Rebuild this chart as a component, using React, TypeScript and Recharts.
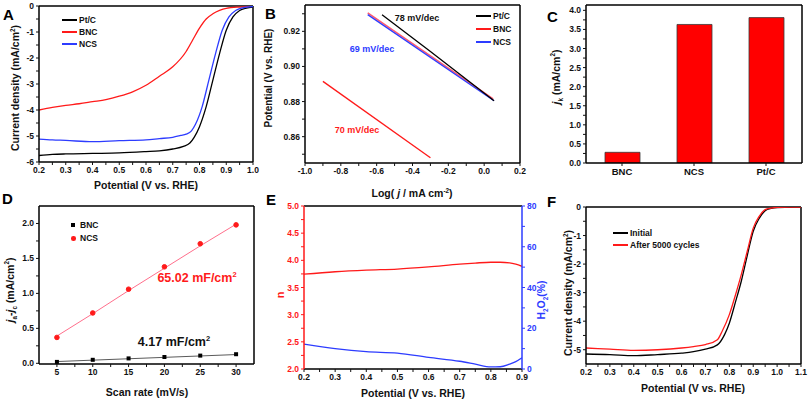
import React from "react"
import { Bar, BarChart, ComposedChart, Line, LineChart, ReferenceLine, XAxis, YAxis } from "recharts"

const FONT = "'Liberation Sans', Arial, Helvetica, sans-serif"
const RED = "#ff1a1a"
const BLUE = "#2d3cff"
const INK = "#111111"

// A: LSV curves, potential (V vs RHE) / current density (mA/cm2)
const aPtcV = [0.2, 0.25, 0.3, 0.4, 0.5, 0.6, 0.65, 0.7, 0.74, 0.764, 0.78, 0.8, 0.825, 0.85, 0.875, 0.9, 0.925, 0.95, 0.975, 1.0]
const aPtcJ = [-5.75, -5.71, -5.69, -5.67, -5.65, -5.6, -5.57, -5.5, -5.4, -5.27, -5.05, -4.64, -3.87, -2.85, -1.83, -0.93, -0.42, -0.17, -0.08, -0.04]
const aNcsV = [0.2, 0.25, 0.3, 0.4, 0.5, 0.6, 0.65, 0.7, 0.73, 0.75, 0.77, 0.785, 0.81, 0.835, 0.86, 0.885, 0.91, 0.935, 0.96, 1.0]
const aNcsJ = [-5.12, -5.15, -5.17, -5.22, -5.18, -5.15, -5.1, -5.05, -4.98, -4.93, -4.8, -4.55, -3.87, -2.85, -1.83, -0.93, -0.42, -0.17, -0.07, -0.02]
const aBncV = [0.2, 0.25, 0.3, 0.35, 0.4, 0.45, 0.5, 0.55, 0.6, 0.65, 0.7, 0.75, 0.775, 0.8, 0.825, 0.85, 0.875, 0.9, 0.95, 1.0]
const aBncJ = [-4.0, -3.9, -3.82, -3.76, -3.68, -3.6, -3.47, -3.3, -3.05, -2.7, -2.34, -1.75, -1.3, -0.85, -0.5, -0.3, -0.17, -0.09, -0.04, -0.02]

// B: Tafel plots, log(j) / potential
const bPtcLog = [-0.57, -0.3, 0.055]
const bPtcE = [0.9295, 0.9085, 0.8805]
const bBncUpLog = [-0.65, 0.05]
const bBncUpE = [0.9305, 0.8815]
const bNcsLog = [-0.65, 0.055]
const bNcsE = [0.9295, 0.8805]
const bBncLog = [-0.9, -0.3]
const bBncE = [0.8915, 0.848]

// C: kinetic current density
const cCats = ["BNC", "NCS", "Pt/C"]
const cJk = [0.28, 3.63, 3.81]

// D: double layer capacitance
const dRate = [5, 10, 15, 20, 25, 30]
const dBnc = [0.02, 0.05, 0.07, 0.09, 0.11, 0.13]
const dNcs = [0.37, 0.72, 1.06, 1.38, 1.71, 1.98]
const dBncFit = [0.025, 0.045, 0.065, 0.085, 0.105, 0.125]
const dNcsFit = [0.39, 0.71, 1.04, 1.36, 1.68, 1.99]

// E: electron transfer number and H2O2 yield
const ePot = [0.2, 0.3, 0.4, 0.5, 0.6, 0.7, 0.75, 0.8, 0.83, 0.86, 0.88, 0.9]
const eN = [3.745, 3.79, 3.82, 3.84, 3.88, 3.93, 3.95, 3.965, 3.965, 3.955, 3.93, 3.89]
const eH2o2 = [12.2, 10, 8.5, 7.8, 5.7, 3.8, 2.4, 1.0, 1.1, 2.4, 3.6, 5.5]

// F: stability
const fInitV = [0.2, 0.3, 0.4, 0.5, 0.6, 0.65, 0.7, 0.75, 0.78, 0.8, 0.825, 0.85, 0.875, 0.9, 0.925, 0.95, 0.975, 1.0, 1.05, 1.1]
const fInitJ = [-5.15, -5.17, -5.21, -5.17, -5.12, -5.07, -4.98, -4.83, -4.47, -4.07, -3.35, -2.6, -1.7, -0.85, -0.4, -0.13, -0.05, -0.02, -0.01, 0]
const fAfterV = [0.2, 0.3, 0.4, 0.5, 0.6, 0.65, 0.7, 0.75, 0.77, 0.8, 0.825, 0.85, 0.875, 0.9, 0.925, 0.95, 0.975, 1.0, 1.05, 1.1]
const fAfterJ = [-4.94, -4.98, -5.02, -5.0, -4.94, -4.89, -4.82, -4.65, -4.35, -3.77, -3.1, -2.37, -1.55, -0.74, -0.33, -0.09, -0.04, -0.01, 0, 0]

// tick labels (major) and minor tick positions
const aXMaj = [0.2, 0.3, 0.4, 0.5, 0.6, 0.7, 0.8, 0.9, 1.0]
const aXMin = [0.25, 0.35, 0.45, 0.55, 0.65, 0.75, 0.85, 0.95]
const aYMaj = [-6, -5, -4, -3, -2, -1, 0]
const aYMin = [-5.5, -4.5, -3.5, -2.5, -1.5, -0.5]
const bXMaj = [-1.0, -0.8, -0.6, -0.4, -0.2, 0.0, 0.2]
const bXMin = [-0.9, -0.7, -0.5, -0.3, -0.1, 0.1]
const bYMaj = [0.86, 0.88, 0.9, 0.92]
const bYMin = [0.85, 0.87, 0.89, 0.91, 0.93]
const cYMaj = [0, 0.5, 1, 1.5, 2, 2.5, 3, 3.5, 4]
const cYMin = [0.25, 0.75, 1.25, 1.75, 2.25, 2.75, 3.25, 3.75]
const dXMaj = [5, 10, 15, 20, 25, 30]
const dXMin = [7.5, 12.5, 17.5, 22.5, 27.5]
const dYMaj = [0, 0.5, 1, 1.5, 2]
const dYMin = [0.25, 0.75, 1.25, 1.75]
const eXMaj = [0.2, 0.3, 0.4, 0.5, 0.6, 0.7, 0.8, 0.9]
const eXMin = [0.25, 0.35, 0.45, 0.55, 0.65, 0.75, 0.85]
const eNMaj = [2, 2.5, 3, 3.5, 4, 4.5, 5]
const eNMin = [2.25, 2.75, 3.25, 3.75, 4.25, 4.75]
const eHMaj = [0, 20, 40, 60, 80]
const eHMin = [10, 30, 50, 70]
const fXMaj = [0.2, 0.3, 0.4, 0.5, 0.6, 0.7, 0.8, 0.9, 1.0, 1.1]
const fXMin = [0.25, 0.35, 0.45, 0.55, 0.65, 0.75, 0.85, 0.95, 1.05]
const fYMaj = [-5, -4, -3, -2, -1, 0]
const fYMin = [-4.5, -3.5, -2.5, -1.5, -0.5]

const pts = (xs: number[], ys: number[]) => xs.map((x, i) => ({ x, y: ys[i] }))
const all = (maj: number[], min: number[]) => [...maj, ...min].sort((a, b) => a - b)
const lab = (maj: number[], f: (v: number) => string) => (v: number) =>
  maj.some((m) => Math.abs(m - v) < 1e-9) ? f(v) : ""
const f1 = (v: number) => v.toFixed(1)
const f2 = (v: number) => v.toFixed(2)
const f0 = (v: number) => String(Math.round(v))

const tickStyle = { fontSize: 8.5, fontWeight: 700, fill: INK, fontFamily: FONT }
const PAD = 4
const RPAD = 12

// plot rectangles (left, top, right, bottom) in page pixels
const rA = { L: 39, T: 6, R: 253, B: 162 }
const rB = { L: 305, T: 5, R: 520, B: 163 }
const rC = { L: 586, T: 5, R: 802, B: 163 }
const rD = { L: 39, T: 206, R: 254, B: 364 }
const rE = { L: 304, T: 206, R: 522, B: 369 }
const rF = { L: 586, T: 207, R: 801, B: 364 }

// place a chart so its plot area lands on the rectangle
function box(r: any, yw: number, xh: number, rw = 0) {
  return {
    pos: { position: "absolute" as const, left: r.L - yw, top: r.T - PAD },
    width: r.R - r.L + yw + rw + RPAD,
    height: r.B - r.T + PAD + xh,
    margin: { top: PAD, right: RPAD, bottom: 0, left: 0 },
  }
}

function Txt({ x, y, size = 10.5, color = INK, rot = 0, left = false, children }: any) {
  return (
    <div
      style={{
        position: "absolute",
        left: x,
        top: y,
        transform: `translate(${left ? "0" : "-50%"}, -50%) rotate(${rot}deg)`,
        fontFamily: FONT,
        fontWeight: 700,
        fontSize: size,
        color,
        whiteSpace: "nowrap",
        lineHeight: 1,
      }}
    >
      {children}
    </div>
  )
}

const Letter = ({ x, y, c }: any) => (
  <div style={{ position: "absolute", left: x, top: y, fontFamily: FONT, fontWeight: 700, fontSize: 15, lineHeight: 1, color: "#000" }}>
    {c}
  </div>
)

const LegLine = ({ x, y, color, label }: any) => (
  <>
    <div style={{ position: "absolute", left: x, top: y - 1, width: 15, height: 2, background: color }} />
    <Txt x={x + 17} y={y} size={8.5} left>
      {label}
    </Txt>
  </>
)

const sup = { fontSize: "0.6em", verticalAlign: "super" }
const sub = { fontSize: "0.6em", verticalAlign: "sub" }
const edge = { stroke: "#000", strokeWidth: 1.5 }

export default function App() {
  const A = box(rA, 39, 20)
  const B = box(rB, 40, 20)
  const C = box(rC, 40, 20)
  const D = box(rD, 39, 20)
  const E = box(rE, 30, 18, 22)
  const F = box(rF, 40, 20)

  const axisLine = { stroke: "#000", strokeWidth: 1.5 }

  return (
    <div style={{ position: "absolute", left: 0, top: 0, width: 808, height: 401, background: "#fff", overflow: "hidden" }}>
      {/* ---------- A ---------- */}
      <div style={A.pos}>
        <LineChart width={A.width} height={A.height} margin={A.margin}>
          <XAxis type="number" dataKey="x" domain={[0.2, 1.0]} allowDataOverflow ticks={all(aXMaj, aXMin)} tickFormatter={lab(aXMaj, f1)} interval={0} tickSize={3} tick={tickStyle} axisLine={axisLine} tickLine={{ stroke: INK }} height={20} />
          <YAxis type="number" domain={[-6, 0]} allowDataOverflow ticks={all(aYMaj, aYMin)} tickFormatter={lab(aYMaj, f0)} interval={0} tickSize={3} tick={tickStyle} axisLine={axisLine} tickLine={{ stroke: INK }} width={39} />
          <ReferenceLine y={0} {...edge} />
          <ReferenceLine x={1.0} {...edge} />
          <Line data={pts(aBncV, aBncJ)} dataKey="y" type="monotone" stroke={RED} strokeWidth={1.3} dot={false} isAnimationActive={false} />
          <Line data={pts(aPtcV, aPtcJ)} dataKey="y" type="monotone" stroke="#000" strokeWidth={1.3} dot={false} isAnimationActive={false} />
          <Line data={pts(aNcsV, aNcsJ)} dataKey="y" type="monotone" stroke={BLUE} strokeWidth={1.3} dot={false} isAnimationActive={false} />
        </LineChart>
      </div>
      <Letter x={3} y={7} c="A" />
      <LegLine x={62} y={20} color="#000" label="Pt/C" />
      <LegLine x={62} y={32} color={RED} label="BNC" />
      <LegLine x={62} y={44} color={BLUE} label="NCS" />
      <Txt x={146} y={185}>Potential (V vs. RHE)</Txt>
      <Txt x={15} y={88} rot={-90}>
        Current density (mA/cm<span style={sup}>2</span>)
      </Txt>

      {/* ---------- B ---------- */}
      <div style={B.pos}>
        <LineChart width={B.width} height={B.height} margin={B.margin}>
          <XAxis type="number" dataKey="x" domain={[-1.0, 0.2]} allowDataOverflow ticks={all(bXMaj, bXMin)} tickFormatter={lab(bXMaj, f1)} interval={0} tickSize={3} tick={tickStyle} axisLine={axisLine} tickLine={{ stroke: INK }} height={20} />
          <YAxis type="number" domain={[0.845, 0.935]} allowDataOverflow ticks={all(bYMaj, bYMin)} tickFormatter={lab(bYMaj, f2)} interval={0} tickSize={3} tick={tickStyle} axisLine={axisLine} tickLine={{ stroke: INK }} width={40} />
          <ReferenceLine y={0.935} {...edge} />
          <ReferenceLine x={0.2} {...edge} />
          <Line data={pts(bBncUpLog, bBncUpE)} dataKey="y" stroke="#ff5a6e" strokeWidth={1.6} dot={false} isAnimationActive={false} />
          <Line data={pts(bNcsLog, bNcsE)} dataKey="y" stroke={BLUE} strokeWidth={1.3} dot={false} isAnimationActive={false} />
          <Line data={pts(bPtcLog, bPtcE)} dataKey="y" stroke="#000" strokeWidth={1.3} dot={false} isAnimationActive={false} />
          <Line data={pts(bBncLog, bBncE)} dataKey="y" stroke={RED} strokeWidth={1.3} dot={false} isAnimationActive={false} />
        </LineChart>
      </div>
      <Letter x={265} y={6} c="B" />
      <LegLine x={476} y={16} color="#000" label="Pt/C" />
      <LegLine x={476} y={29} color={RED} label="BNC" />
      <LegLine x={476} y={42} color={BLUE} label="NCS" />
      <Txt x={417} y={18} size={9}>78 mV/dec</Txt>
      <Txt x={372} y={49} size={9} color={BLUE}>69 mV/dec</Txt>
      <Txt x={357} y={130} size={9} color={RED}>70 mV/dec</Txt>
      <Txt x={412} y={193}>
        Log( <i>j</i> / mA cm<span style={sup}>-2</span>)
      </Txt>
      <Txt x={268.5} y={78} rot={-90} size={10}>Potential (V vs. RHE)</Txt>

      {/* ---------- C ---------- */}
      <div style={C.pos}>
        <BarChart width={C.width} height={C.height} margin={C.margin} data={cCats.map((c, i) => ({ k: i + 1, v: cJk[i] }))}>
          <XAxis type="number" dataKey="k" domain={[0.5, 3.5]} allowDataOverflow ticks={[1, 2, 3]} tickFormatter={(v: number) => cCats[v - 1] ?? ""} interval={0} tickSize={3} tick={{ ...tickStyle, fontSize: 9.5 }} axisLine={axisLine} tickLine={{ stroke: INK }} height={20} />
          <YAxis type="number" domain={[0, 4.14]} allowDataOverflow ticks={all(cYMaj, cYMin)} tickFormatter={lab(cYMaj, f1)} interval={0} tickSize={3} tick={tickStyle} axisLine={axisLine} tickLine={{ stroke: INK }} width={40} />
          <ReferenceLine y={4.14} {...edge} />
          <ReferenceLine x={3.5} {...edge} />
          <Bar dataKey="v" fill="#ff0000" stroke="#3a3a3a" strokeWidth={0.8} barSize={35} isAnimationActive={false} />
        </BarChart>
      </div>
      <Letter x={547} y={9} c="C" />
      <Txt x={557} y={77} rot={-90}>
        <i>j</i>
        <span style={sub}>k</span> (mA/cm<span style={sup}>2</span>)
      </Txt>

      {/* ---------- D ---------- */}
      <div style={D.pos}>
        <ComposedChart width={D.width} height={D.height} margin={D.margin} data={dRate.map((r, i) => ({ r, bnc: dBnc[i], ncs: dNcs[i], bf: dBncFit[i], nf: dNcsFit[i] }))}>
          <XAxis type="number" dataKey="r" domain={[2.5, 32.5]} allowDataOverflow ticks={all(dXMaj, dXMin)} tickFormatter={lab(dXMaj, f0)} interval={0} tickSize={3} tick={tickStyle} axisLine={axisLine} tickLine={{ stroke: INK }} height={20} />
          <YAxis type="number" domain={[-0.01, 2.25]} allowDataOverflow ticks={all(dYMaj, dYMin)} tickFormatter={lab(dYMaj, f1)} interval={0} tickSize={3} tick={tickStyle} axisLine={axisLine} tickLine={{ stroke: INK }} width={39} />
          <ReferenceLine y={2.25} {...edge} />
          <ReferenceLine x={32.5} {...edge} />
          <Line dataKey="nf" stroke="#ff6f8c" strokeWidth={1} dot={false} isAnimationActive={false} />
          <Line dataKey="bf" stroke="#5a5a5a" strokeWidth={1} dot={false} isAnimationActive={false} />
          <Line dataKey="ncs" stroke="none" dot={{ r: 2.3, fill: RED, stroke: RED }} isAnimationActive={false} />
          <Line
            dataKey="bnc"
            stroke="none"
            dot={(p: any) => <rect key={p.index} x={p.cx - 2} y={p.cy - 2} width={4} height={4} fill="#000" />}
            isAnimationActive={false}
          />
        </ComposedChart>
      </div>
      <Letter x={2} y={191} c="D" />
      <div style={{ position: "absolute", left: 71, top: 223, width: 4, height: 4, background: "#000" }} />
      <div style={{ position: "absolute", left: 71, top: 236, width: 4.5, height: 4.5, borderRadius: "50%", background: RED }} />
      <Txt x={80} y={225} size={8.5} left>BNC</Txt>
      <Txt x={80} y={238} size={8.5} left>NCS</Txt>
      <Txt x={197} y={278} size={12.5} color={RED}>
        65.02 mF/cm<span style={sup}>2</span>
      </Txt>
      <Txt x={174} y={342} size={12.5}>
        4.17 mF/cm<span style={sup}>2</span>
      </Txt>
      <Txt x={147} y={392}>Scan rate (mV/s)</Txt>
      <Txt x={11} y={290} rot={-90}>
        <i>j</i>
        <span style={sub}>a</span>-<i>j</i>
        <span style={sub}>c</span> (mA/cm<span style={sup}>2</span>)
      </Txt>

      {/* ---------- E ---------- */}
      <div style={E.pos}>
        <LineChart width={E.width} height={E.height} margin={E.margin} data={ePot.map((p, i) => ({ p, n: eN[i], h: eH2o2[i] }))}>
          <XAxis type="number" dataKey="p" domain={[0.2, 0.9]} allowDataOverflow ticks={all(eXMaj, eXMin)} tickFormatter={lab(eXMaj, f1)} interval={0} tickSize={3} tick={tickStyle} axisLine={axisLine} tickLine={{ stroke: INK }} height={18} />
          <YAxis yAxisId="n" type="number" domain={[2, 5]} allowDataOverflow ticks={all(eNMaj, eNMin)} tickFormatter={lab(eNMaj, f1)} interval={0} tickSize={3} tick={{ ...tickStyle, fill: RED }} axisLine={{ stroke: RED, strokeWidth: 1.5 }} tickLine={{ stroke: RED }} width={30} />
          <YAxis yAxisId="h" orientation="right" type="number" domain={[0, 80]} allowDataOverflow ticks={all(eHMaj, eHMin)} tickFormatter={lab(eHMaj, f0)} interval={0} tickSize={3} tick={{ ...tickStyle, fill: BLUE }} axisLine={{ stroke: BLUE, strokeWidth: 1.5 }} tickLine={{ stroke: BLUE }} width={22} />
          <ReferenceLine yAxisId="n" y={5} {...edge} />
          <Line yAxisId="n" dataKey="n" type="monotone" stroke={RED} strokeWidth={1.3} dot={false} isAnimationActive={false} />
          <Line yAxisId="h" dataKey="h" type="monotone" stroke={BLUE} strokeWidth={1.3} dot={false} isAnimationActive={false} />
        </LineChart>
      </div>
      <Letter x={266} y={192} c="E" />
      <Txt x={413} y={393}>Potential (V vs. RHE)</Txt>
      <Txt x={280} y={295} rot={-90} color={RED} size={11}>n</Txt>
      <Txt x={543} y={300} rot={-90} color={BLUE}>
        H<span style={sub}>2</span>O<span style={sub}>2</span>(%)
      </Txt>

      {/* ---------- F ---------- */}
      <div style={F.pos}>
        <LineChart width={F.width} height={F.height} margin={F.margin}>
          <XAxis type="number" dataKey="x" domain={[0.2, 1.1]} allowDataOverflow ticks={all(fXMaj, fXMin)} tickFormatter={lab(fXMaj, f1)} interval={0} tickSize={3} tick={tickStyle} axisLine={axisLine} tickLine={{ stroke: INK }} height={20} />
          <YAxis type="number" domain={[-5.5, 0]} allowDataOverflow ticks={all(fYMaj, fYMin)} tickFormatter={lab(fYMaj, f0)} interval={0} tickSize={3} tick={tickStyle} axisLine={axisLine} tickLine={{ stroke: INK }} width={40} />
          <ReferenceLine y={0} {...edge} />
          <ReferenceLine x={1.1} {...edge} />
          <Line data={pts(fInitV, fInitJ)} dataKey="y" type="monotone" stroke="#000" strokeWidth={1.3} dot={false} isAnimationActive={false} />
          <Line data={pts(fAfterV, fAfterJ)} dataKey="y" type="monotone" stroke={RED} strokeWidth={1.3} dot={false} isAnimationActive={false} />
        </LineChart>
      </div>
      <Letter x={547} y={194} c="F" />
      <LegLine x={613} y={233} color="#000" label="Initial" />
      <LegLine x={613} y={245} color={RED} label="After 5000 cycles" />
      <Txt x={693} y={388}>Potential (V vs. RHE)</Txt>
      <Txt x={568} y={293} rot={-90}>
        Current density (mA/cm<span style={sup}>2</span>)
      </Txt>
    </div>
  )
}
